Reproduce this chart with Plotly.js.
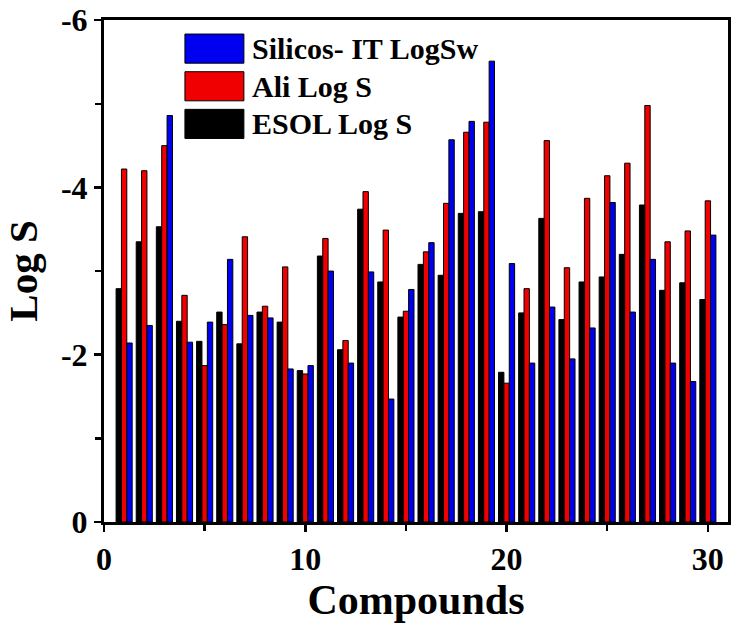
<!DOCTYPE html>
<html>
<head>
<meta charset="utf-8">
<script src="https://cdn.plot.ly/plotly-3.0.1.min.js"></script>
<style>
  html, body { margin: 0; padding: 0; background: #fff; }
  #chart { width: 735px; height: 623px; }
</style>
</head>
<body>
<div id="chart"></div>
<script>
const compounds = Array.from({length: 30}, (_, i) => i + 1);

const silicosLogSw = [-2.14, -2.35, -4.86, -2.15, -2.39, -3.14, -2.47, -2.44, -1.83, -1.87,
                      -3.00, -1.90, -2.99, -1.47, -2.78, -3.34, -4.57, -4.79, -5.51, -3.09,
                      -1.90, -2.57, -1.95, -2.32, -3.82, -2.51, -3.14, -1.90, -1.68, -3.43];
const aliLogS = [-4.22, -4.20, -4.50, -2.71, -1.87, -2.36, -3.41, -2.58, -3.05, -1.77,
                 -3.39, -2.17, -3.95, -3.49, -2.52, -3.23, -3.81, -4.66, -4.78, -1.66,
                 -2.79, -4.56, -3.04, -3.87, -4.14, -4.29, -4.98, -3.35, -3.48, -3.84];
const esolLogS = [-2.79, -3.35, -3.53, -2.40, -2.16, -2.51, -2.13, -2.51, -2.39, -1.81,
                  -3.18, -2.06, -3.74, -2.87, -2.45, -3.08, -2.95, -3.69, -3.71, -1.79,
                  -2.50, -3.63, -2.42, -2.87, -2.93, -3.20, -3.79, -2.77, -2.86, -2.66];

const seriesNames = ["Silicos- IT LogSw", "Ali Log S", "ESOL Log S"];
const seriesColors = ["#0000f0", "#f00000", "#000000"];

// y tick labels use a plain hyphen like the original
const yTickVals = [0, -2, -4, -6];
const yTickText = ["0", "-2", "-4", "-6"];

const serif = "Liberation Serif, Times New Roman, serif";

function bar(name, y, color) {
    return {
        x: compounds,
        y: y,
        name: name,
        type: "bar",
        marker: {color: color, line: {color: "#000", width: 1}}
    };
}

// group order left to right: ESOL, Ali, Silicos
const traces = [
    bar(seriesNames[2], esolLogS, seriesColors[2]),
    bar(seriesNames[1], aliLogS, seriesColors[1]),
    bar(seriesNames[0], silicosLogSw, seriesColors[0])
];

// hand-made legend: big swatches with text
const legendTop = 0.972, rowStep = 0.075, boxH = 0.058;
const shapes = [], annotations = [];
seriesNames.forEach((n, i) => {
    const y1 = legendTop - i * rowStep;
    shapes.push({
        type: "rect", xref: "paper", yref: "paper",
        x0: 0.1297, x1: 0.2242, y0: y1 - boxH, y1: y1,
        fillcolor: seriesColors[i], line: {color: "#000", width: 1}
    });
    annotations.push({
        xref: "paper", yref: "paper", x: 0.2345, y: y1 - boxH / 2,
        xanchor: "left", yanchor: "middle", showarrow: false, text: n,
        font: {family: serif, size: 30, weight: 700, color: "#000"}
    });
});

const axisCommon = {
    showline: true, linecolor: "#000", linewidth: 3, mirror: true,
    ticks: "outside", ticklen: 7, tickwidth: 2.5, tickcolor: "#000",
    showgrid: false, zeroline: false, automargin: false,
    ticklabeloverflow: "allow",
    tickfont: {family: serif, size: 32, weight: 700, color: "#000"}
};

const layout = {
    width: 735, height: 623,
    margin: {l: 104, r: 7, t: 20, b: 101},
    paper_bgcolor: "#fff", plot_bgcolor: "#fff",
    barmode: "group", bargap: 0.2, bargroupgap: 0,
    showlegend: false,
    xaxis: Object.assign({}, axisCommon, {
        range: [0, 31], dtick: 10, tick0: 0,
        minor: {dtick: 5, ticks: "outside", ticklen: 6, tickwidth: 2.5, tickcolor: "#000"},
        title: {text: "Compounds", standoff: 6,
                font: {family: serif, size: 42, weight: 700, color: "#000"}}
    }),
    yaxis: Object.assign({}, axisCommon, {
        range: [0, -6.002],
        tickmode: "array", tickvals: yTickVals, ticktext: yTickText,
        minor: {tickmode: "linear", tick0: 0, dtick: 1, ticks: "outside", ticklen: 6, tickwidth: 2.5, tickcolor: "#000"},
        title: {text: "Log S", standoff: 24,
                font: {family: serif, size: 41, weight: 700, color: "#000"}}
    }),
    shapes: shapes,
    annotations: annotations
};

Plotly.newPlot("chart", traces, layout, {displayModeBar: false, staticPlot: true});
</script>
</body>
</html>
